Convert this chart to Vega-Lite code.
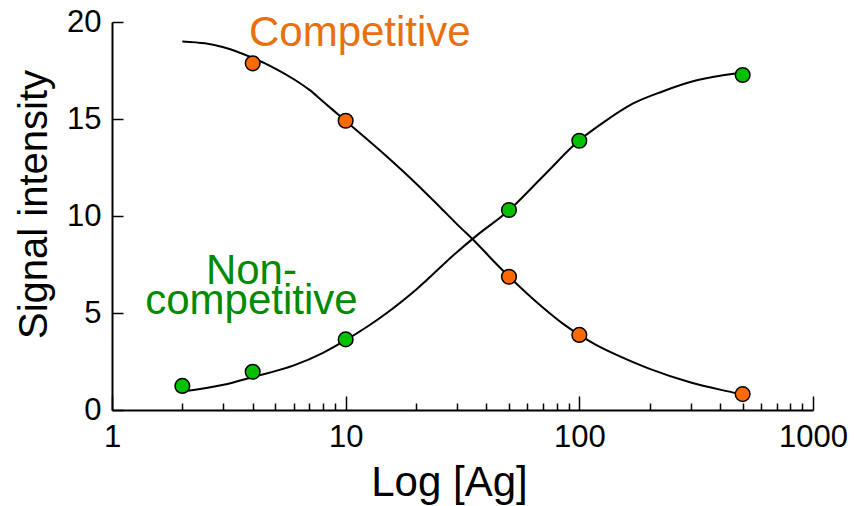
{
  "$schema": "https://vega.github.io/schema/vega-lite/v6.json",
  "width": 701,
  "height": 388,
  "autosize": "none",
  "padding": {"left": 112, "top": 22, "right": 41, "bottom": 96},
  "background": "white",
  "config": {"view": {"stroke": null}, "font": "Liberation Sans"},
  "datasets": {
    "curves": [
      {"series": "Competitive", "x": 2, "y": 19.0},
      {"series": "Competitive", "x": 2.5, "y": 18.9},
      {"series": "Competitive", "x": 3, "y": 18.7},
      {"series": "Competitive", "x": 4, "y": 18.15},
      {"series": "Competitive", "x": 5, "y": 17.6},
      {"series": "Competitive", "x": 6, "y": 17.05},
      {"series": "Competitive", "x": 7, "y": 16.5},
      {"series": "Competitive", "x": 8, "y": 15.9},
      {"series": "Competitive", "x": 10, "y": 14.9},
      {"series": "Competitive", "x": 15, "y": 13.07},
      {"series": "Competitive", "x": 20, "y": 11.68},
      {"series": "Competitive", "x": 25, "y": 10.53},
      {"series": "Competitive", "x": 30, "y": 9.57},
      {"series": "Competitive", "x": 36, "y": 8.65},
      {"series": "Competitive", "x": 42, "y": 7.8},
      {"series": "Competitive", "x": 50, "y": 6.88},
      {"series": "Competitive", "x": 60, "y": 5.98},
      {"series": "Competitive", "x": 70, "y": 5.27},
      {"series": "Competitive", "x": 85, "y": 4.45},
      {"series": "Competitive", "x": 100, "y": 3.87},
      {"series": "Competitive", "x": 120, "y": 3.3},
      {"series": "Competitive", "x": 150, "y": 2.75},
      {"series": "Competitive", "x": 200, "y": 2.12},
      {"series": "Competitive", "x": 300, "y": 1.42},
      {"series": "Competitive", "x": 400, "y": 1.05},
      {"series": "Competitive", "x": 500, "y": 0.8},
      {"series": "Non-competitive", "x": 2, "y": 0.95},
      {"series": "Non-competitive", "x": 3, "y": 1.3},
      {"series": "Non-competitive", "x": 4, "y": 1.7},
      {"series": "Non-competitive", "x": 6, "y": 2.3},
      {"series": "Non-competitive", "x": 8, "y": 2.95},
      {"series": "Non-competitive", "x": 10, "y": 3.6},
      {"series": "Non-competitive", "x": 15, "y": 5.0},
      {"series": "Non-competitive", "x": 20, "y": 6.2},
      {"series": "Non-competitive", "x": 30, "y": 8.15},
      {"series": "Non-competitive", "x": 36, "y": 8.95},
      {"series": "Non-competitive", "x": 50, "y": 10.3},
      {"series": "Non-competitive", "x": 70, "y": 12.05},
      {"series": "Non-competitive", "x": 100, "y": 13.9},
      {"series": "Non-competitive", "x": 126, "y": 14.8},
      {"series": "Non-competitive", "x": 170, "y": 15.8},
      {"series": "Non-competitive", "x": 227, "y": 16.42},
      {"series": "Non-competitive", "x": 315, "y": 16.98},
      {"series": "Non-competitive", "x": 500, "y": 17.4}
    ],
    "points": [
      {"series": "Competitive", "x": 4, "y": 17.87},
      {"series": "Competitive", "x": 10, "y": 14.91},
      {"series": "Competitive", "x": 50, "y": 6.87},
      {"series": "Competitive", "x": 100, "y": 3.87},
      {"series": "Competitive", "x": 500, "y": 0.82},
      {"series": "Non-competitive", "x": 2, "y": 1.24},
      {"series": "Non-competitive", "x": 4, "y": 1.97},
      {"series": "Non-competitive", "x": 10, "y": 3.64},
      {"series": "Non-competitive", "x": 50, "y": 10.31},
      {"series": "Non-competitive", "x": 100, "y": 13.88},
      {"series": "Non-competitive", "x": 500, "y": 17.27}
    ],
    "labels": [
      {"series": "Competitive", "text": "Competitive", "x": 11.5, "y": 18.76},
      {"series": "Non-competitive", "text": "Non-", "x": 3.95, "y": 6.5},
      {"series": "Non-competitive", "text": "competitive", "x": 3.95, "y": 4.97}
    ]
  },
  "resolve": {"axis": {"x": "independent"}},
  "layer": [
    {
      "data": {"name": "curves"},
      "mark": {"type": "line", "color": "black", "strokeWidth": 2, "interpolate": "monotone"},
      "encoding": {
        "x": {
          "field": "x", "type": "quantitative",
          "scale": {"type": "log", "domain": [1, 1000], "nice": false},
          "axis": {
            "orient": "bottom",
            "values": [1, 10, 100, 1000],
            "format": "d",
            "grid": false,
            "domainColor": "black", "domainWidth": 2,
            "tickColor": "black", "tickWidth": 1.5, "tickSize": -14,
            "labelFont": "Liberation Sans", "labelFontSize": 31, "labelColor": "black",
            "labelBaseline": "alphabetic", "labelPadding": 50.7, "labelFlush": false,
            "labelOverlap": false,
            "title": "Log [Ag]",
            "titleFont": "Liberation Sans", "titleFontSize": 42, "titleFontWeight": "normal", "titleColor": "black",
            "titleX": 337, "titleY": 85, "titleBaseline": "alphabetic", "titleAlign": "center", "titleAnchor": null
          }
        },
        "y": {
          "field": "y", "type": "quantitative",
          "scale": {"domain": [0, 20], "nice": false},
          "axis": {
            "values": [0, 5, 10, 15, 20],
            "grid": false,
            "domainColor": "black", "domainWidth": 2,
            "tickColor": "black", "tickWidth": 1.5, "tickSize": -11,
            "labelFont": "Liberation Sans", "labelFontSize": 31, "labelColor": "black",
            "labelPadding": 22, "labelFlush": false,
            "title": "Signal intensity",
            "titleFont": "Liberation Sans", "titleFontSize": 40, "titleFontWeight": "normal", "titleColor": "black",
            "titleAngle": -90, "titleX": -65.5, "titleY": 182, "titleBaseline": "alphabetic", "titleAlign": "center", "titleAnchor": null
          }
        },
        "detail": {"field": "series"}
      }
    },
    {
      "data": {"name": "points"},
      "mark": {"type": "circle", "size": 215, "stroke": "black", "strokeWidth": 1.5, "opacity": 1},
      "encoding": {
        "x": {
          "field": "x", "type": "quantitative",
          "axis": {
            "orient": "bottom",
            "values": [2, 3, 4, 5, 6, 7, 8, 9, 20, 30, 40, 50, 60, 70, 80, 90, 200, 300, 400, 500, 600, 700, 800, 900],
            "grid": false, "domain": false, "labels": false, "title": null,
            "tickColor": "black", "tickWidth": 1.5, "tickSize": -7
          }
        },
        "y": {"field": "y", "type": "quantitative"},
        "color": {
          "field": "series", "type": "nominal",
          "scale": {"domain": ["Competitive", "Non-competitive"], "range": ["#FF6A00", "#00C000"]},
          "legend": null
        }
      }
    },
    {
      "data": {"name": "labels"},
      "transform": [{"filter": "datum.series === 'Competitive'"}],
      "mark": {"type": "text", "font": "Liberation Sans", "fontSize": 42, "align": "center", "baseline": "alphabetic", "color": "#E8700F"},
      "encoding": {
        "x": {"field": "x", "type": "quantitative", "axis": null},
        "y": {"field": "y", "type": "quantitative"},
        "text": {"field": "text"}
      }
    },
    {
      "data": {"name": "labels"},
      "transform": [{"filter": "datum.series === 'Non-competitive'"}],
      "mark": {"type": "text", "font": "Liberation Sans", "fontSize": 42, "align": "center", "baseline": "alphabetic", "color": "#008A00"},
      "encoding": {
        "x": {"field": "x", "type": "quantitative", "axis": null},
        "y": {"field": "y", "type": "quantitative"},
        "text": {"field": "text"}
      }
    }
  ]
}
